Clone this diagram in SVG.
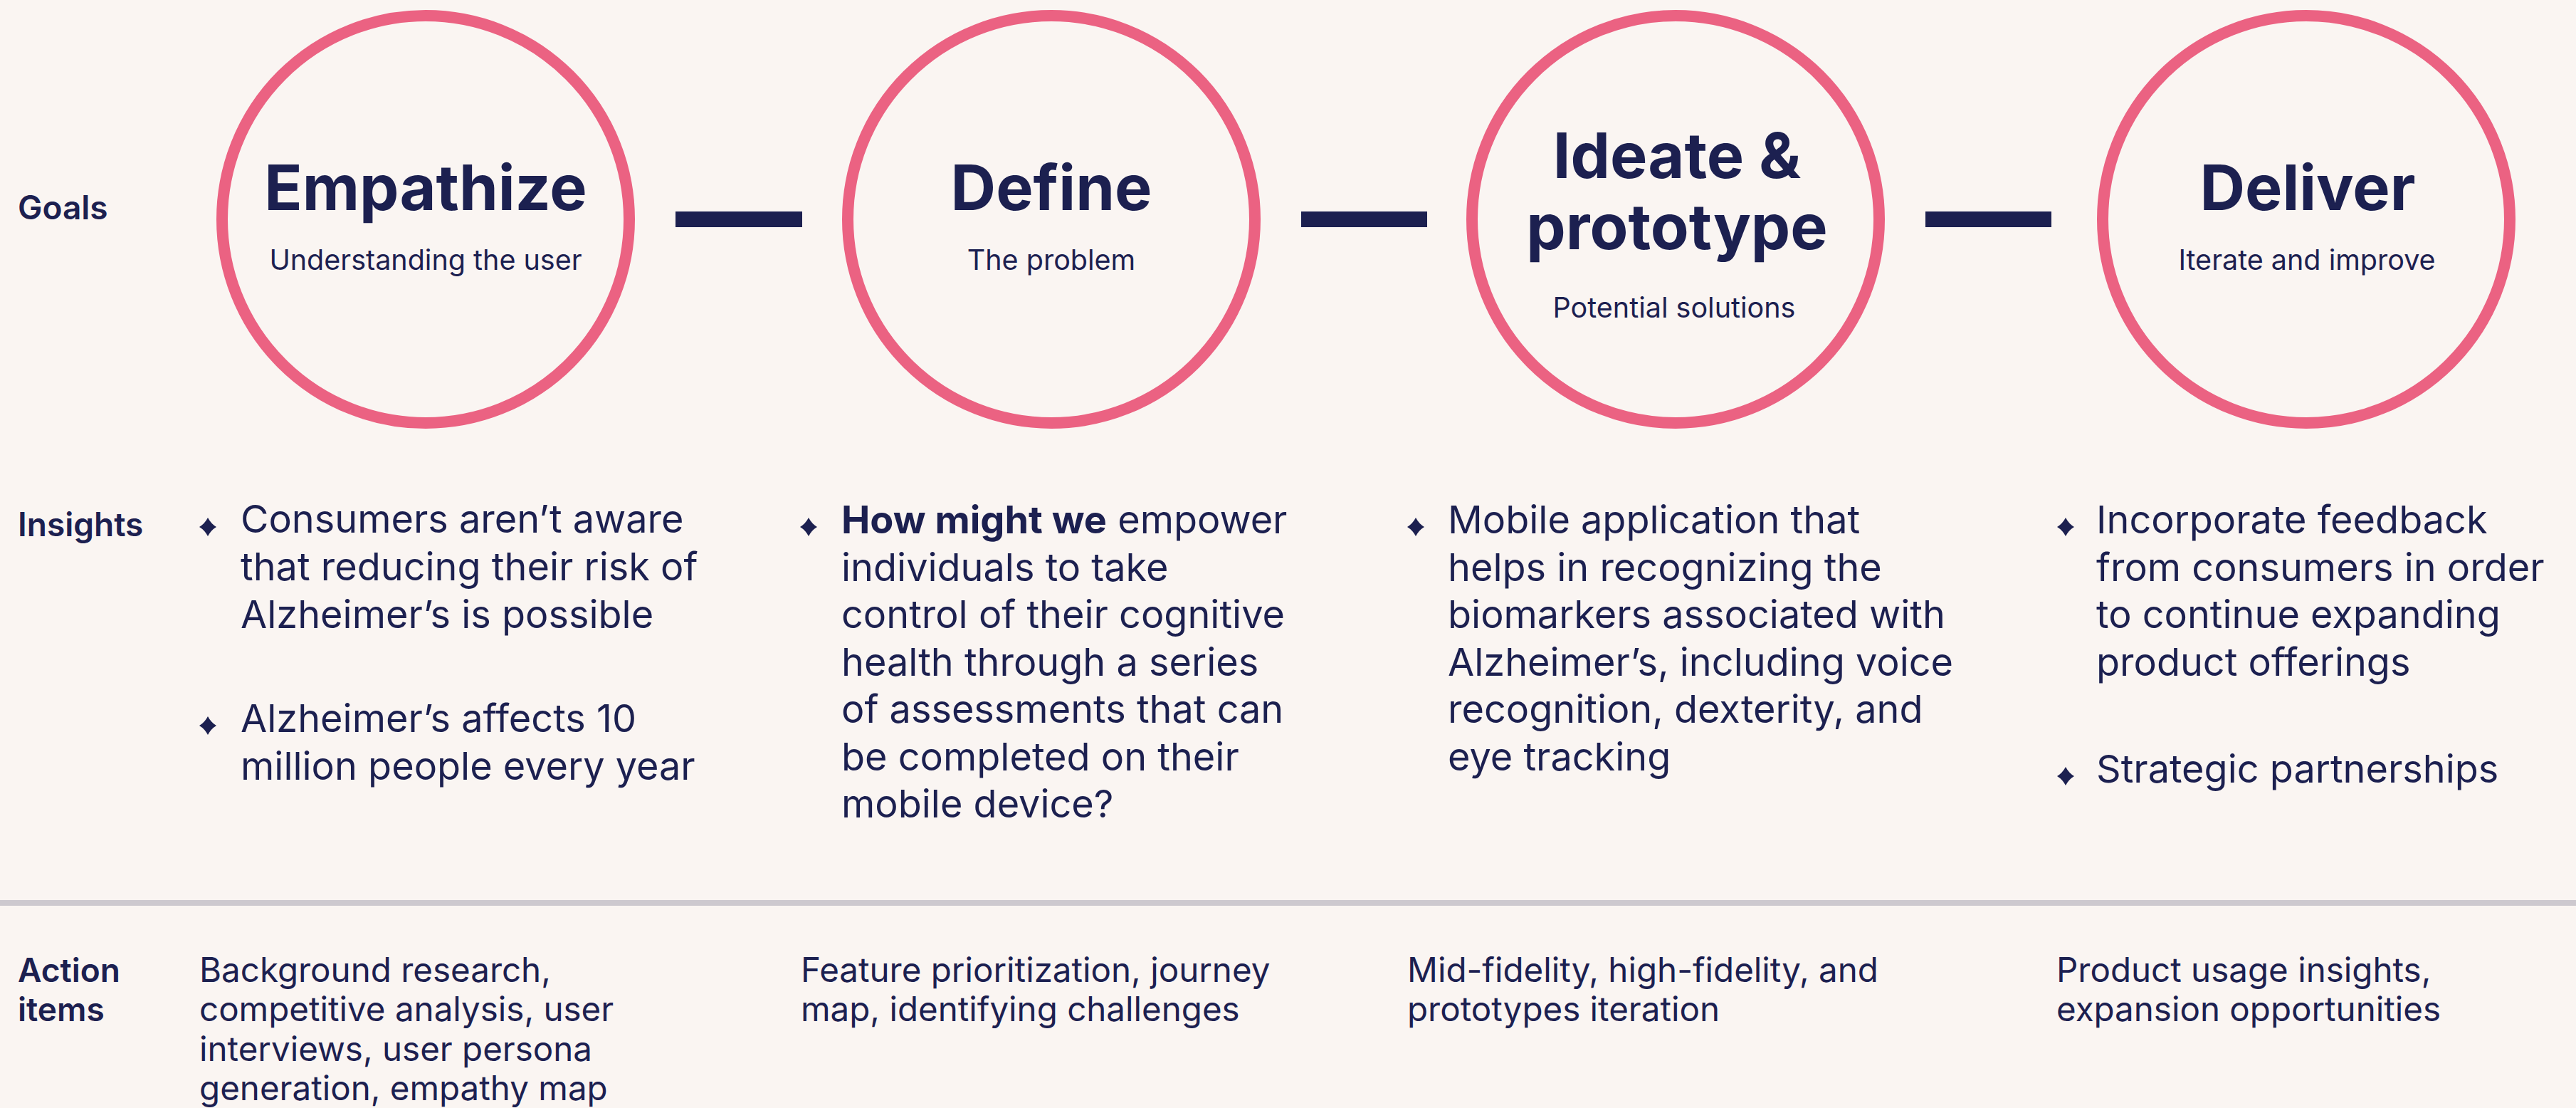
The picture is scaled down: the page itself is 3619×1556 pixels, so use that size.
<svg xmlns="http://www.w3.org/2000/svg" width="3619" height="1556" viewBox="0 0 3619 1556">
  <style>
    .bg{fill:#FAF5F2}
    .ring{fill:none;stroke:#EB6282;stroke-width:16}
    .bar{fill:#1C2050}
    .rule{fill:#CDC9CF}
    text{font-family:Inter,"Liberation Sans",sans-serif;fill:#1C2050}
    .title{font-weight:700;font-size:88px;text-anchor:middle}
    .sub{font-weight:400;font-size:39.5px;text-anchor:middle}
    .label{font-weight:600;font-size:46px}
    .body{font-weight:400;font-size:54px}
    .act{font-weight:400;font-size:47.5px}
    .strong{font-weight:700}
    .dot{fill:#1C2050}
  </style>
  <defs>
    <!-- bullet: rounded diamond with slightly pinched sides -->
    <path id="bullet" d="M0,-13 Q4.5,-4.5 12,0 Q4.5,4.5 0,13 Q-4.5,4.5 -12,0 Q-4.5,-4.5 0,-13Z"/>
  </defs>

  <rect class="bg" x="0" y="0" width="3619" height="1556"/>

  <!-- row labels -->
  <g id="row-labels">
    <text class="label" x="25" y="308">Goals</text>
    <text class="label" x="25" y="753">Insights</text>
    <text class="label" x="25" y="1379">Action</text>
    <text class="label" x="25" y="1434">items</text>
  </g>

  <!-- links between the stage circles -->
  <g id="connectors">
    <rect class="bar" x="949" y="297" width="178" height="22"/>
    <rect class="bar" x="1828" y="297" width="177" height="22"/>
    <rect class="bar" x="2705" y="297" width="177" height="22"/>
  </g>

  <!-- stage circles -->
  <g id="empathize">
    <circle class="ring" cx="598" cy="308" r="286"/>
    <text class="title" x="598" y="295">Empathize</text>
    <text class="sub" x="598" y="379">Understanding the user</text>
  </g>
  <g id="define">
    <circle class="ring" cx="1477" cy="308" r="286"/>
    <text class="title" x="1477" y="295">Define</text>
    <text class="sub" x="1477" y="379">The problem</text>
  </g>
  <g id="ideate">
    <circle class="ring" cx="2354" cy="308" r="286"/>
    <text class="title" x="2356" y="250">Ideate &amp;</text>
    <text class="title" x="2356" y="350">prototype</text>
    <text class="sub" x="2352" y="446">Potential solutions</text>
  </g>
  <g id="deliver">
    <circle class="ring" cx="3240" cy="308" r="286"/>
    <text class="title" x="3242" y="295">Deliver</text>
    <text class="sub" x="3241" y="379">Iterate and improve</text>
  </g>

  <!-- insights -->
  <g id="insights-empathize">
    <use href="#bullet" class="dot" x="292" y="740"/>
    <text class="body" x="338" y="748">Consumers aren’t aware</text>
    <text class="body" x="338" y="815">that reducing their risk of</text>
    <text class="body" x="338" y="882">Alzheimer’s is possible</text>
    <use href="#bullet" class="dot" x="292" y="1019"/>
    <text class="body" x="338" y="1028">Alzheimer’s affects 10</text>
    <text class="body" x="338" y="1095">million people every year</text>
  </g>
  <g id="insights-define">
    <use href="#bullet" class="dot" x="1136" y="740"/>
    <text class="body" x="1182" y="749"><tspan class="strong">How might we</tspan> empower</text>
    <text class="body" x="1182" y="815.5">individuals to take</text>
    <text class="body" x="1182" y="882">control of their cognitive</text>
    <text class="body" x="1182" y="948.5">health through a series</text>
    <text class="body" x="1182" y="1015">of assessments that can</text>
    <text class="body" x="1182" y="1081.5">be completed on their</text>
    <text class="body" x="1182" y="1148">mobile device?</text>
  </g>
  <g id="insights-ideate">
    <use href="#bullet" class="dot" x="1989" y="740"/>
    <text class="body" x="2034" y="749">Mobile application that</text>
    <text class="body" x="2034" y="815.5">helps in recognizing the</text>
    <text class="body" x="2034" y="882">biomarkers associated with</text>
    <text class="body" x="2034" y="948.5">Alzheimer’s, including voice</text>
    <text class="body" x="2034" y="1015">recognition, dexterity, and</text>
    <text class="body" x="2034" y="1081.5">eye tracking</text>
  </g>
  <g id="insights-deliver">
    <use href="#bullet" class="dot" x="2902" y="740"/>
    <text class="body" x="2945" y="749">Incorporate feedback</text>
    <text class="body" x="2945" y="815.5">from consumers in order</text>
    <text class="body" x="2945" y="882">to continue expanding</text>
    <text class="body" x="2945" y="948.5">product offerings</text>
    <use href="#bullet" class="dot" x="2902" y="1090"/>
    <text class="body" x="2945" y="1099">Strategic partnerships</text>
  </g>

  <!-- divider above the action items -->
  <rect class="rule" x="0" y="1264" width="3619" height="8"/>

  <!-- action items -->
  <g id="actions-empathize">
    <text class="act" x="280" y="1379">Background research,</text>
    <text class="act" x="280" y="1434">competitive analysis, user</text>
    <text class="act" x="280" y="1489.5">interviews, user persona</text>
    <text class="act" x="280" y="1545">generation, empathy map</text>
  </g>
  <g id="actions-define">
    <text class="act" x="1125" y="1379">Feature prioritization, journey</text>
    <text class="act" x="1125" y="1434">map, identifying challenges</text>
  </g>
  <g id="actions-ideate">
    <text class="act" x="1977" y="1379">Mid-fidelity, high-fidelity, and</text>
    <text class="act" x="1977" y="1434">prototypes iteration</text>
  </g>
  <g id="actions-deliver">
    <text class="act" x="2889" y="1379">Product usage insights,</text>
    <text class="act" x="2889" y="1434">expansion opportunities</text>
  </g>
</svg>
